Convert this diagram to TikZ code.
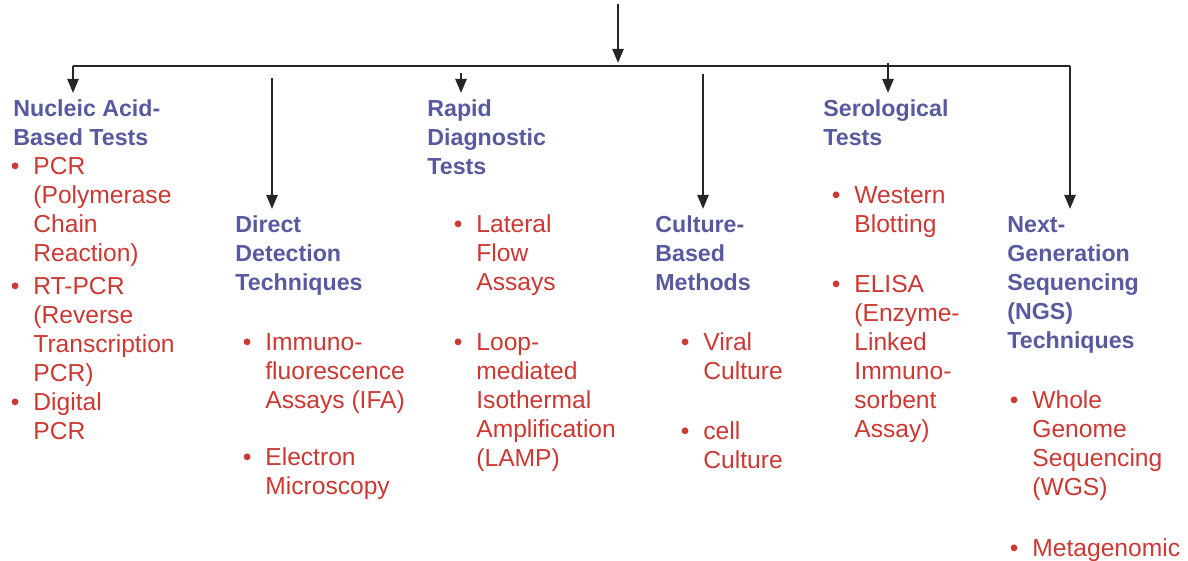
\documentclass[tikz,border=0pt]{standalone}
\usepackage{fontspec}
\setmainfont{Liberation Sans}
\usetikzlibrary{arrows.meta}

\definecolor{headblue}{RGB}{88,90,160}
\definecolor{itemred}{RGB}{204,56,50}

\tikzset{
  head/.style={anchor=north west, inner sep=0pt, align=left, text=headblue,
    font=\fontsize{11.6}{14.5}\selectfont\bfseries},
  entry/.style={anchor=north west, inner sep=0pt, align=left, text=itemred,
    font=\fontsize{12.3}{14.5}\selectfont},
  link/.style={line width=1.2pt, draw=black!85},
  arr/.style={link, -{Triangle[length=7pt,width=5.5pt]}, shorten >=1.5pt},
}
% bullet hung in the left margin, strut keeps the first line height fixed
\newcommand{\bul}{\strut\llap{\textbullet\hspace{7pt}}}

\begin{document}
\begin{tikzpicture}[x=0.5pt, y=-0.5pt]
  \useasboundingbox (0,0) rectangle (1188,561);

  % Category headings
  \node[head] (nat) at (13,96) {\strut Nucleic Acid-\\Based Tests};
  \node[head] (ddt) at (235,212) {\strut Direct\\Detection\\Techniques};
  \node[head] (rdt) at (427,96) {\strut Rapid\\Diagnostic\\Tests};
  \node[head] (cbm) at (655,212) {\strut Culture-\\Based\\Methods};
  \node[head] (ser) at (823,96) {\strut Serological\\Tests};
  \node[head] (ngs) at (1007,212) {\strut Next-\\Generation\\Sequencing\\(NGS)\\Techniques};

  % Nucleic acid tests
  \node[entry] (pcr) at (33,154) {\bul PCR\\(Polymerase\\Chain\\Reaction)};
  \node[entry] (rtpcr) at (33,274) {\bul RT-PCR\\(Reverse\\Transcription\\PCR)};
  \node[entry] (dpcr) at (33,390) {\bul Digital\\PCR};
  % Direct detection
  \node[entry] (ifa) at (265,330) {\bul Immuno-\\fluorescence\\Assays (IFA)};
  \node[entry] (em) at (265,445) {\bul Electron\\Microscopy};
  % Rapid tests
  \node[entry] (lfa) at (476,212) {\bul Lateral\\Flow\\Assays};
  \node[entry] (lamp) at (476,330) {\bul Loop-\\mediated\\Isothermal\\Amplification\\(LAMP)};
  % Culture
  \node[entry] (vc) at (703,330) {\bul Viral\\Culture};
  \node[entry] (cc) at (703,419) {\bul cell\\Culture};
  % Serology
  \node[entry] (wb) at (854,183) {\bul Western\\Blotting};
  \node[entry] (elisa) at (854,272) {\bul ELISA\\(Enzyme-\\Linked\\Immuno-\\sorbent\\Assay)};
  % Sequencing
  \node[entry] (wgs) at (1032,388) {\bul Whole\\Genome\\Sequencing\\(WGS)};
  \node[entry] (meta) at (1032,536) {\bul Metagenomic};

  % Trunk and bar
  \coordinate (top) at (618,4);
  \coordinate (hub) at (618,66);
  \coordinate (lt) at (73,66);
  \coordinate (rt) at (1070,66);
  \draw[arr] (top) -- (hub);
  \draw[link] (lt) -- (rt);

  % Branches
  \draw[arr] (lt) -- (lt |- nat.north);
  \draw[arr] (272,78) -- (272,0 |- ddt.north);
  \draw[arr] (461,73) -- (461,0 |- rdt.north);
  \draw[arr] (703,74) -- (703,0 |- cbm.north);
  \draw[arr] (888,63) -- (888,0 |- ser.north);
  \draw[arr] (rt) -- (rt |- ngs.north);
\end{tikzpicture}
\end{document}
